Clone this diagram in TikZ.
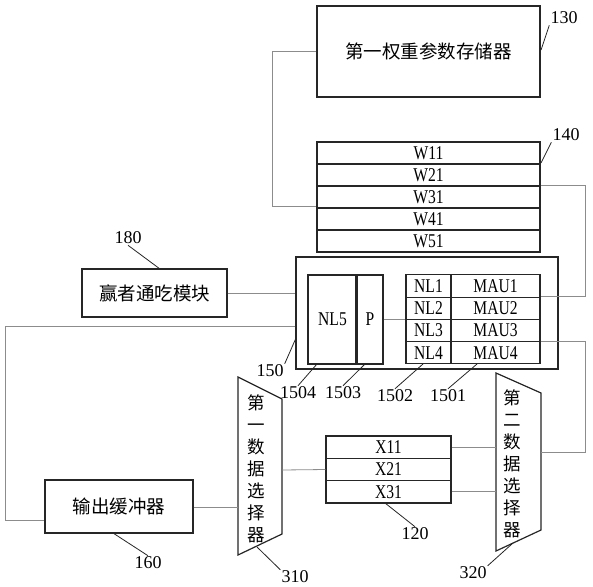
\documentclass[tikz,border=0pt]{standalone}
\usepackage{fontspec}
\setmainfont{Liberation Serif}
\newfontfamily\cjk{Noto Sans CJK SC}
\newfontfamily\nlat[FakeStretch=0.8]{Liberation Serif}
\usetikzlibrary{calc}
\begin{document}
\begin{tikzpicture}[x=1pt,y=-1pt,
  box/.style={draw=black!85, line width=1.2pt, inner sep=0pt},
  mux/.style={draw=black!85, line width=1.2pt},
  conn/.style={draw=black!45, line width=0.8pt},
  lead/.style={draw=black!85, line width=0.8pt},
  lab/.style={font=\fontsize{18}{18}\selectfont, inner sep=1pt},
  cn/.style={font=\cjk\fontsize{18.5}{19}\selectfont},
  vcn/.style={font=\cjk\fontsize{17.5}{22}\selectfont, align=center, inner sep=0pt},
  lt/.style={font=\nlat\fontsize{19.5}{19.5}\selectfont},
  wrow/.style={box, minimum width=223pt, minimum height=22pt, lt},
  nlc/.style={box, minimum width=45pt, minimum height=22.25pt, lt},
  mauc/.style={box, minimum width=89pt, minimum height=22.25pt, lt},
  xrow/.style={box, minimum width=125pt, minimum height=22.33pt, lt}]
\useasboundingbox[fill=white] (0,0) rectangle (593,586);

% 130 first weight parameter memory
\node[box, minimum width=223pt, minimum height=91pt, cn] (m130) at (428.5,51.5) {第一权重参数存储器};

% 140 weight rows
\node[wrow] (w1) at (428.5,153) {W11};
\node[wrow] (w2) at (428.5,175) {W21};
\node[wrow] (w3) at (428.5,197) {W31};
\node[wrow] (w4) at (428.5,219) {W41};
\node[wrow] (w5) at (428.5,241) {W51};

% 150 main unit
\node[box, minimum width=262pt, minimum height=112pt] (m150) at (427,313) {};
\node[box, minimum width=49pt, minimum height=89pt, lt] (nl5) at (332.5,319.5) {NL5};
\node[box, minimum width=26pt, minimum height=89pt, lt] (p) at (370,319.5) {P};
\draw[line width=2.2pt, black!85] (p.north west) -- (p.south west);
\node[nlc] (nl1) at (428.5,286) {NL1};
\node[nlc] (nl2) at (428.5,308.25) {NL2};
\node[nlc] (nl3) at (428.5,330.5) {NL3};
\node[nlc] (nl4) at (428.5,352.75) {NL4};
\node[mauc] (mau1) at (495.5,286) {MAU1};
\node[mauc] (mau2) at (495.5,308.25) {MAU2};
\node[mauc] (mau3) at (495.5,330.5) {MAU3};
\node[mauc] (mau4) at (495.5,352.75) {MAU4};

% 180 winner-take-all
\node[box, minimum width=145pt, minimum height=48pt, cn] (m180) at (154.5,293) {赢者通吃模块};

% 160 output buffer
\node[box, minimum width=148pt, minimum height=53pt, cn] (m160) at (119,506.5) {输出缓冲器};

% 120 input rows
\node[xrow] (x1) at (388.5,447.17) {X11};
\node[xrow] (x2) at (388.5,469.5) {X21};
\node[xrow] (x3) at (388.5,491.83) {X31};

% multiplexers
\draw[mux] (238,377) -- (282,399) -- (282,534) -- (238,555) -- cycle;
\node[vcn] (mx1t) at (256,468.5) {第\\一\\数\\据\\选\\择\\器};
\draw[mux] (496,373) -- (541,393) -- (541,530) -- (496,551) -- cycle;
\node[vcn] (mx2t) at (512,464) {第\\二\\数\\据\\选\\择\\器};
\coordinate (mux1in) at (238,507);
\coordinate (mux1out) at (282,470);
\coordinate (mux2l) at (496,0);
\coordinate (mux2out) at (541,452);

% connectors
\draw[conn] (m130.west) -- ++(-44,0) |- ($(w3.south west)+(0,-2)$);
\draw[conn] (w3.north east) -- ++(45,0) |- (mau2.north east);
\draw[conn] (mau4.north east) -- ++(45,0) |- (mux2out);
\draw[conn] (p.east) -- (p.east -| nl3.west);
\draw[conn] (m180.east) -- (m180.east -| m150.west);
\coordinate (bl) at ($(m150.north west)+(0,70)$);
\draw[conn] (bl) -| (5,520) -- (m160.west |- 0,520);
\draw[conn] (m160.east |- mux1in) -- (mux1in);
\draw[conn] (mux1out) -- (x2.west);
\draw[conn] (x1.east) -- (x1.east -| mux2l);
\draw[conn] (x3.east) -- (x3.east -| mux2l);

% labels
\node[lab] (l130) at (564,18) {130};
\draw[lead] (541,50) -- (l130.south west);
\node[lab] (l140) at (566,135) {140};
\draw[lead] (541,163) -- (l140.south west);
\node[lab] (l180) at (128,238) {180};
\draw[lead] (160,269) -- (l180.south);
\node[lab] (l150) at (270,371) {150};
\draw[lead] (296,338) -- (l150.north east);
\node[lab] (l1504) at (298,393) {1504};
\draw[lead] (317,364) -- (l1504.north);
\node[lab] (l1503) at (343,393) {1503};
\draw[lead] (365,364) -- (l1503.north);
\node[lab] (l1502) at (395,396) {1502};
\draw[lead] (423,364) -- (l1502.north);
\node[lab] (l1501) at (448,396) {1501};
\draw[lead] (477,364) -- (l1501.north);
\node[lab] (l160) at (148,563) {160};
\draw[lead] (113,533) -- (l160.north);
\node[lab] (l310) at (295,577) {310};
\draw[lead] (257,547) -- (l310.north west);
\node[lab] (l120) at (415,534) {120};
\draw[lead] (385,503) -- (l120.north);
\node[lab] (l320) at (473,573) {320};
\draw[lead] (513,543) -- (l320.north east);
\end{tikzpicture}
\end{document}
